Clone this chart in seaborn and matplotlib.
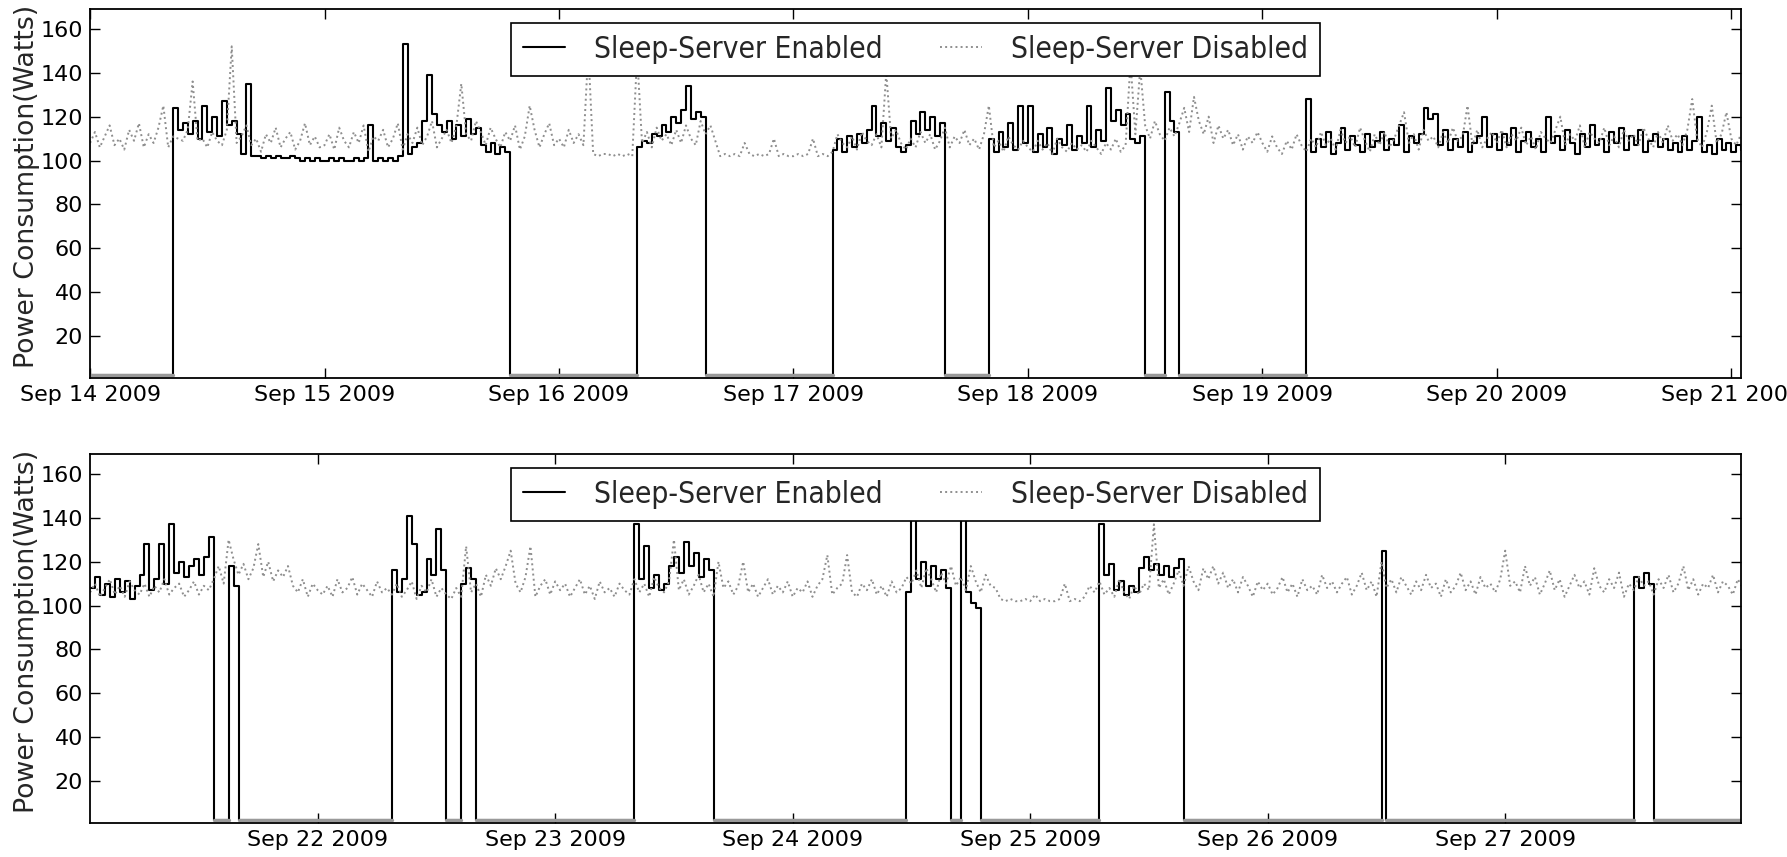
import numpy as np
import pandas as pd
import matplotlib
matplotlib.use("Agg")
import matplotlib.pyplot as plt
import matplotlib.dates as mdates
from matplotlib import font_manager
import seaborn as sns

# power draw of one desktop, two weeks, one reading every 30 min
OFF = 2.5   # watts while the PC sleeps

# ---- week 1 : starts Sep 14 00:00 ----
wk1_start = "2009-09-14 00:00"
wk1_xlim = ("2009-09-14 00:00", "2009-09-21 01:00")

dis_wk1 = [
    # Sep 14
    108, 113, 106, 111, 116, 107, 110, 105, 114, 109, 117, 106,
    112, 108, 115, 125, 106, 111, 110, 109, 114, 136, 109, 110,
    106, 113, 109, 107, 114, 152, 108, 111, 116, 107, 110, 104,
    112, 108, 115, 106, 110, 113, 105, 109, 117, 107, 111, 106,
    # Sep 15
    107, 112, 105, 115, 109, 106, 113, 108, 116, 104, 111, 109,
    114, 106, 110, 117, 105, 112, 108, 115, 107, 111, 118, 106,
    110, 114, 108, 116, 135, 112, 109, 118, 113, 107, 115, 110,
    106, 113, 109, 116, 105, 111, 125, 114, 106, 112, 117, 107,
    # Sep 16
    110, 106, 114, 108, 112, 107, 150, 103, 102, 103, 103, 102,
    103, 102, 103, 102, 148, 108, 113, 106, 115, 109, 112, 107,
    114, 108, 116, 110, 107, 118, 112, 116, 109, 102, 103, 102,
    103, 102, 108, 103, 102, 103, 102, 103, 110, 102, 103, 102,
    # Sep 17
    102, 103, 102, 103, 110, 102, 103, 102, 104, 112, 108, 106,
    111, 105, 113, 109, 107, 112, 106, 140, 110, 114, 108, 105,
    110, 106, 113, 108, 112, 105, 109, 115, 106, 111, 108, 114,
    107, 110, 105, 112, 125, 106, 109, 104, 111, 107, 105, 109,
    # Sep 18
    106, 104, 109, 105, 108, 103, 110, 106, 104, 108, 105, 107,
    104, 109, 106, 103, 108, 105, 110, 104, 107, 145, 112, 142,
    116, 110, 118, 112, 109, 115, 111, 117, 124, 113, 129, 118,
    112, 120, 108, 116, 110, 114, 107, 112, 105, 111, 108, 113,
    # Sep 19
    108, 104, 111, 106, 103, 109, 105, 112, 107, 104, 110, 106,
    113, 107, 110, 105, 114, 108, 111, 106, 115, 109, 104, 112,
    107, 113, 106, 110, 116, 122, 108, 112, 105, 114, 109, 111,
    106, 113, 108, 115, 109, 111, 125, 107, 114, 106, 110, 113,
    # Sep 20
    108, 114, 106, 112, 109, 115, 107, 111, 105, 113, 110, 108,
    114, 120, 107, 112, 109, 116, 106, 113, 110, 108, 115, 107,
    111, 106, 114, 109, 112, 107, 115, 110, 106, 113, 108, 116,
    109, 112, 107, 114, 128, 110, 106, 113, 125, 108, 112, 122,
    # Sep 21
    110, 107, 112,
]

# awake stretches of the sleep-server machine, week 1
on_a = [124, 114, 117, 112,
        118, 110, 125, 113, 120, 111, 127, 116,
        118, 112, 103, 135, 102,
        102, 101, 102, 101, 102, 101, 101, 102,
        101, 100, 101, 100, 101, 100,
        100, 101, 100, 101, 100, 100, 101, 100, 101,
        116,
        100, 101, 100, 101, 100, 102,
        153,
        103, 106, 108,
        118, 139, 121, 116,
        113, 118, 110, 116, 111, 119, 112, 115,
        107, 104, 108, 103, 106, 104]
on_b = [106, 109, 108, 112, 111, 116, 113, 120, 117, 123, 134, 119, 122, 120]
on_c = [105, 110, 104, 111, 106, 112, 108, 114, 125, 111, 117, 109,
        115, 106, 104, 107, 118, 112, 122, 114, 120, 111, 117]
on_d = [110, 104, 113, 106, 117, 105, 125, 108, 125, 104, 112, 106,
        115, 103, 110, 107, 116, 105, 111, 108, 125, 106, 114, 109,
        133, 118, 123, 116, 121, 110, 108, 111]
on_e = [131, 118, 113]
on_f = [128,
        104, 110, 106, 113, 103, 108, 115, 105, 111, 107, 104, 112, 106, 109,
        113, 105, 110, 107, 116, 104, 111, 108, 112, 124, 119, 121,
        107, 114, 105, 110, 106, 113, 104, 108, 111, 120, 106, 112,
        105, 112, 107, 115, 104, 109, 113, 106, 110, 104, 120, 108,
        111, 105, 114, 108, 103, 112, 106, 116, 107, 110, 104, 113,
        108, 115, 105, 111, 107, 114, 104, 109, 112, 106, 110, 105,
        108, 104, 111, 105, 109, 120, 104, 107, 103, 110, 105, 108,
        104, 107, 105]

en_wk1 = ([OFF] * 17 + on_a + [OFF] * 26 + on_b + [OFF] * 26 + on_c +
          [OFF] * 9 + on_d + [OFF] * 4 + on_e + [OFF] * 26 + on_f)

# ---- week 2 : starts Sep 21 01:00 ----
wk2_start = "2009-09-21 01:00"
wk2_xlim = ("2009-09-21 01:00", "2009-09-27 23:50")

dis_wk2 = [
    # Sep 21
    106, 110, 104, 108, 112, 105, 109, 104, 111, 107, 105, 110,
    104, 109, 106, 112, 105, 108, 110, 104, 107, 111, 105, 109,
    107, 112, 118, 110, 130, 121, 114, 119, 112, 117, 128, 113,
    120, 111, 116, 113, 118, 109, 106, 112, 104, 110, 107, 105,
    # Sep 22
    109, 104, 112, 106, 108, 113, 105, 110, 107, 104, 111, 106,
    108, 105, 110, 104, 107, 111, 103, 109, 106, 112, 104, 108,
    105, 103, 108, 104, 127, 106, 110, 104, 114, 109, 117, 112,
    118, 125, 110, 106, 113, 127, 104, 109, 112, 105, 111, 107,
    # Sep 23
    110, 104, 108, 112, 105, 109, 103, 111, 106, 108, 104, 110,
    107, 105, 112, 106, 110, 104, 113, 108, 106, 111, 130, 107,
    112, 105, 109, 114, 106, 110, 104, 120, 108, 111, 105, 109,
    120, 106, 110, 104, 108, 112, 105, 109, 106, 111, 104, 108,
    # Sep 24
    106, 111, 104, 109, 112, 123, 105, 108, 110, 123, 106, 104,
    110, 107, 112, 105, 109, 104, 111, 106, 108, 113, 110, 116,
    108, 117, 112, 106, 115, 110, 118, 109, 113, 107, 118, 111,
    106, 114, 109, 108, 103, 102, 103, 102, 102, 103, 102, 105,
    # Sep 25
    102, 103, 102, 102, 103, 110, 102, 103, 102, 104, 109, 106,
    111, 105, 108, 104, 112, 106, 103, 109, 105, 110, 107, 137,
    108, 112, 105, 110, 116, 109, 118, 111, 107, 117, 112, 118,
    110, 115, 108, 112, 106, 113, 109, 104, 111, 107, 110, 105,
    # Sep 26
    108, 113, 106, 110, 104, 112, 107, 109, 105, 114, 108, 111,
    106, 110, 113, 105, 109, 115, 107, 111, 104, 120, 108, 112,
    106, 113, 109, 105, 111, 107, 114, 108, 110, 104, 112, 106,
    109, 115, 107, 111, 105, 113, 108, 110, 106, 112, 125, 109,
    # Sep 27
    111, 106, 118, 109, 113, 105, 110, 116, 107, 112, 104, 109,
    114, 108, 111, 105, 117, 109, 106, 112, 108, 115, 104, 110,
    107, 113, 109, 111, 105, 112, 108, 114, 106, 110, 118, 107,
    112, 105, 110, 108, 114, 106, 111, 109, 105, 112, 108,
]

on_g = [108, 113, 105, 110, 104, 112, 106, 111, 103, 109, 114, 128,
        107, 112, 128, 110, 137, 115, 120, 113, 118, 121, 114, 122, 131]
on_h = [118, 109]
on_i = [116, 106, 112, 141, 128, 105, 106, 121, 114, 135, 116]
on_j = [110, 117, 112]
on_k = [137, 112, 127, 108, 114, 107, 110, 118, 122, 115, 129, 118,
        124, 113, 121, 116]
on_l = [106, 150, 112, 120, 109, 118, 112, 116, 108]
on_m = [145, 106, 101, 99]
on_n = [137, 114, 119, 107, 111, 105, 109, 106, 117, 122, 116, 119,
        114, 118, 113, 117, 121]
on_o = [125]
on_p = [113, 108, 115, 110]

en_wk2 = (on_g + [OFF] * 3 + on_h + [OFF] * 31 + on_i + [OFF] * 3 + on_j +
          [OFF] * 32 + on_k + [OFF] * 39 + on_l + [OFF] * 2 + on_m +
          [OFF] * 24 + on_n + [OFF] * 40 + on_o + [OFF] * 50 + on_p +
          [OFF] * 19)

assert len(en_wk1) == len(dis_wk1) and len(en_wk2) == len(dis_wk2)

# ---- style ----
sns.set_style("ticks")
plt.rcParams.update({
    "font.family": ["DejaVu Sans"],
    "axes.linewidth": 1.3,
    "axes.edgecolor": "black",
    "xtick.direction": "in",
    "ytick.direction": "in",
    "xtick.major.size": 7,
    "ytick.major.size": 7,
    "xtick.major.width": 1.0,
    "ytick.major.width": 1.0,
    "xtick.color": "black",
    "ytick.color": "black",
})

# legend text in the picture is narrow, use a condensed face if there is one
leg_font = font_manager.FontProperties(family="DejaVu Sans", size=19)
for f in font_manager.fontManager.ttflist:
    fn = f.fname.lower()
    if f.name == "DejaVu Sans" and "condensed" in fn and "bold" not in fn and "oblique" not in fn:
        leg_font = font_manager.FontProperties(fname=f.fname, size=21.5)
        break


def draw_week(ax, start, en, dis, xlim):
    t = pd.date_range(start, periods=len(dis), freq="30min")
    df = pd.DataFrame({"time": t, "en": en, "dis": dis})
    sns.lineplot(data=df, x="time", y="en", ax=ax, color="black", lw=1.5,
                 drawstyle="steps-post", estimator=None, sort=False,
                 label="Sleep-Server Enabled")
    # sleeping stretches show up as a lighter, thicker trace
    flat = np.where(np.asarray(en) == OFF, OFF, np.nan)
    ax.plot(t, flat, drawstyle="steps-post", color="#9a9a9a", lw=2.4,
            label="_nolegend_")
    sns.lineplot(data=df, x="time", y="dis", ax=ax, color="#8e8e8e", lw=1.4,
                 linestyle=":", estimator=None, sort=False,
                 label="Sleep-Server Disabled")

    ax.set_xlim(pd.Timestamp(xlim[0]), pd.Timestamp(xlim[1]))
    ax.set_ylim(1, 169)
    ax.set_yticks(range(20, 161, 20))
    ax.xaxis.set_major_locator(mdates.DayLocator())
    ax.xaxis.set_major_formatter(mdates.DateFormatter("%b %d %Y"))
    ax.tick_params(top=True, right=True, labeltop=False, labelright=False,
                   labelsize=16, pad=5)
    ax.set_xlabel("")
    ax.set_ylabel("Power Consumption(Watts)", fontsize=19.3)
    ax.yaxis.set_label_coords(-0.0305, 0.52)
    for s in ax.spines.values():
        s.set_visible(True)

    leg = ax.legend(loc="upper center", bbox_to_anchor=(0.5, 0.963),
                    borderaxespad=0, ncol=2, frameon=True, fancybox=False,
                    framealpha=1, edgecolor="black", prop=leg_font,
                    handlelength=1.4, handletextpad=1.0, columnspacing=1.9,
                    borderpad=0.4)
    leg.get_frame().set_linewidth(1.2)


fig = plt.figure(figsize=(17.87, 8.57), dpi=100)
ax1 = fig.add_axes([0.0504, 0.5589, 0.9239, 0.4306])
ax2 = fig.add_axes([0.0504, 0.0397, 0.9239, 0.4305])

draw_week(ax1, wk1_start, en_wk1, dis_wk1, wk1_xlim)
draw_week(ax2, wk2_start, en_wk2, dis_wk2, wk2_xlim)

fig.savefig("out.png", dpi=100)
